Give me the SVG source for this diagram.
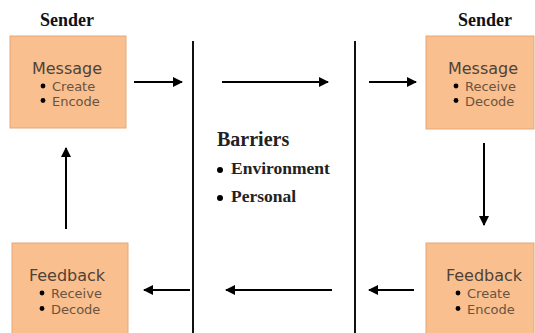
<svg xmlns="http://www.w3.org/2000/svg" width="535" height="333" viewBox="0 0 535 333">
<style>
.box{fill:#f9bf8f;stroke:#e6a878;stroke-width:1}
.title{font-family:"DejaVu Sans","Liberation Sans",sans-serif;font-size:16px;fill:#4f4236;text-anchor:middle}
.item{font-family:"DejaVu Sans","Liberation Sans",sans-serif;font-size:13px;fill:#6a5340}
.dot{fill:#000}
.hdr{font-family:"Liberation Serif","Times New Roman",serif;font-weight:bold;font-size:18px;fill:#111;text-anchor:middle}
.bar{font-family:"Liberation Serif","Times New Roman",serif;font-weight:bold;fill:#222}
.ln{stroke:#000;stroke-width:2;fill:none}
.wall{stroke:#111;stroke-width:2}
</style>
<defs>
<marker id="ah" viewBox="0 0 10 10" refX="9" refY="5" markerWidth="5" markerHeight="5" orient="auto" markerUnits="strokeWidth">
<path d="M0,0 L10,5 L0,10 z" fill="#000"/>
</marker>
</defs>
<rect width="535" height="333" fill="#fff"/>
<text class="hdr" x="67" y="26">Sender</text>
<text class="hdr" x="485" y="26">Sender</text>
<g id="msg-left">
<rect class="box" x="10" y="36" width="116" height="92"/>
<text class="title" x="67" y="74">Message</text>
<circle class="dot" cx="43" cy="86" r="2.4"/><text class="item" x="52" y="90.5">Create</text>
<circle class="dot" cx="43" cy="100.5" r="2.4"/><text class="item" x="52" y="105.5">Encode</text>
</g>
<g id="msg-right">
<rect class="box" x="426" y="36" width="108" height="93"/>
<text class="title" x="483" y="74">Message</text>
<circle class="dot" cx="456" cy="86" r="2.4"/><text class="item" x="465" y="90.5">Receive</text>
<circle class="dot" cx="456" cy="100.5" r="2.4"/><text class="item" x="465" y="105.5">Decode</text>
</g>
<g id="fb-left">
<rect class="box" x="12" y="243" width="116" height="95"/>
<text class="title" x="67" y="281">Feedback</text>
<circle class="dot" cx="42" cy="293" r="2.4"/><text class="item" x="51" y="298">Receive</text>
<circle class="dot" cx="42" cy="308.5" r="2.4"/><text class="item" x="51" y="313.5">Decode</text>
</g>
<g id="fb-right">
<rect class="box" x="426" y="243" width="108" height="95"/>
<text class="title" x="484" y="281">Feedback</text>
<circle class="dot" cx="458" cy="293" r="2.4"/><text class="item" x="467" y="298">Create</text>
<circle class="dot" cx="458" cy="308.5" r="2.4"/><text class="item" x="467" y="313.5">Encode</text>
</g>
<g id="barriers">
<line class="wall" x1="193" y1="41" x2="193" y2="333"/>
<line class="wall" x1="355" y1="41" x2="355" y2="333"/>
<text class="bar" x="217" y="146" font-size="20">Barriers</text>
<circle class="dot" cx="220" cy="170" r="3"/><text class="bar" x="231" y="174" font-size="17.5">Environment</text>
<circle class="dot" cx="220" cy="198" r="3"/><text class="bar" x="231" y="202" font-size="17.5">Personal</text>
</g>
<g id="connectors">
<line class="ln" x1="134" y1="82" x2="182" y2="82" marker-end="url(#ah)"/>
<line class="ln" x1="222" y1="82" x2="328" y2="82" marker-end="url(#ah)"/>
<line class="ln" x1="369" y1="82" x2="416" y2="82" marker-end="url(#ah)"/>
<line class="ln" x1="484" y1="143" x2="484" y2="225" marker-end="url(#ah)"/>
<line class="ln" x1="414" y1="290" x2="369" y2="290" marker-end="url(#ah)"/>
<line class="ln" x1="332" y1="290" x2="226" y2="290" marker-end="url(#ah)"/>
<line class="ln" x1="190" y1="290" x2="144" y2="290" marker-end="url(#ah)"/>
<line class="ln" x1="66" y1="229" x2="66" y2="148" marker-end="url(#ah)"/>
</g>
</svg>
